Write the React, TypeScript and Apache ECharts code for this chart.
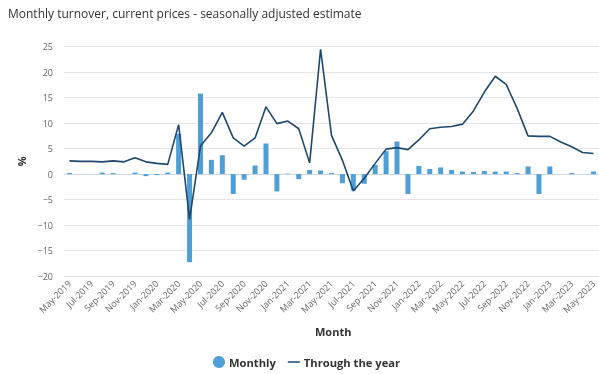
import React, { useEffect, useRef } from "react";
import * as echarts from "echarts";

const months: string[] = [
  "May-2019", "Jun-2019", "Jul-2019", "Aug-2019", "Sep-2019", "Oct-2019", "Nov-2019", "Dec-2019",
  "Jan-2020", "Feb-2020", "Mar-2020", "Apr-2020", "May-2020", "Jun-2020", "Jul-2020", "Aug-2020",
  "Sep-2020", "Oct-2020", "Nov-2020", "Dec-2020", "Jan-2021", "Feb-2021", "Mar-2021", "Apr-2021",
  "May-2021", "Jun-2021", "Jul-2021", "Aug-2021", "Sep-2021", "Oct-2021", "Nov-2021", "Dec-2021",
  "Jan-2022", "Feb-2022", "Mar-2022", "Apr-2022", "May-2022", "Jun-2022", "Jul-2022", "Aug-2022",
  "Sep-2022", "Oct-2022", "Nov-2022", "Dec-2022", "Jan-2023", "Feb-2023", "Mar-2023", "Apr-2023",
  "May-2023",
];

const monthly: number[] = [
  0.2, 0.0, 0.0, 0.3, 0.2, 0.0, 0.3, -0.4,
  -0.2, 0.3, 7.9, -17.3, 15.8, 2.8, 3.7, -3.9,
  -1.1, 1.7, 6.0, -3.4, 0.1, -1.0, 0.8, 0.7,
  0.2, -1.8, -3.2, -1.9, 1.8, 4.5, 6.4, -3.9,
  1.6, 1.0, 1.3, 0.8, 0.5, 0.4, 0.6, 0.5,
  0.5, 0.2, 1.5, -3.9, 1.5, 0.0, 0.2, 0.0,
  0.5,
];

const throughYear: number[] = [
  2.6, 2.5, 2.5, 2.4, 2.6, 2.4, 3.2, 2.4,
  2.1, 1.9, 9.7, -8.9, 5.5, 8.1, 12.1, 7.1,
  5.5, 7.1, 13.2, 9.9, 10.4, 8.9, 2.2, 24.5,
  7.6, 2.7, -3.3, -0.8, 2.1, 4.9, 5.2, 4.8,
  6.7, 8.9, 9.2, 9.35, 9.8, 12.4, 16.1, 19.2,
  17.6, 12.9, 7.5, 7.4, 7.4, 6.3, 5.35, 4.25,
  4.05,
];

const FONT = "'Open Sans', sans-serif";

export default function App() {
  const ref = useRef<HTMLDivElement>(null);
  useEffect(() => {
    if (!ref.current) return;
    const chart = echarts.init(ref.current, undefined, { renderer: "svg" });
    chart.setOption({
      animation: false,
      textStyle: { fontFamily: FONT },
      title: {
        text: "Monthly turnover, current prices - seasonally adjusted estimate",
        left: 3,
        top: 2,
        textStyle: { fontFamily: FONT, fontSize: 12, fontWeight: "normal", color: "#333333" },
      },
      grid: { left: 64, right: 0, top: 46.7, bottom: 98, containLabel: false },
      legend: {
        top: 351,
        left: 208,
        itemGap: 12,
        itemWidth: 12,
        itemHeight: 12,
        itemStyle: { borderWidth: 0 },
        textStyle: { fontFamily: FONT, fontSize: 11.2, fontWeight: "bold", color: "#333333", padding: [0, 0, 0, -1] },
        data: [
          { name: "Monthly", icon: "circle" },
          { name: "Through the year", icon: "path://M0,7 L16,7 L16,9 L0,9 Z" },
        ],
      },
      graphic: [
        {
          type: "text",
          left: 315,
          top: 326,
          style: { text: "Month", fontFamily: FONT, fontSize: 11, fontWeight: "bold", fill: "#333333" },
        },
      ],
      xAxis: {
        type: "category",
        data: months,
        boundaryGap: true,
        axisLine: { show: true, lineStyle: { color: "#ccd6eb", width: 1 } },
        axisTick: { show: false },
        axisLabel: {
          interval: 1,
          rotate: 45,
          fontSize: 9,
          color: "#666666",
          fontFamily: FONT,
          margin: 6,
        },
      },
      yAxis: {
        type: "value",
        min: -20,
        max: 25,
        interval: 5,
        name: "%",
        nameLocation: "middle",
        nameRotate: 90,
        nameGap: 36,
        nameTextStyle: { fontFamily: FONT, fontSize: 11, fontWeight: "bold", color: "#333333" },
        axisLine: { show: false },
        axisTick: { show: false },
        splitLine: { lineStyle: { color: "#e6e6e6", width: 1 } },
        axisLabel: {
          fontSize: 9,
          color: "#666666",
          fontFamily: FONT,
          margin: 11,
          formatter: (v: number) => (v < 0 ? "\u2212" + Math.abs(v) : String(v)),
        },
      },
      series: [
        {
          name: "Monthly",
          type: "bar",
          data: monthly,
          barWidth: 5,
          itemStyle: { color: "#4e9fd5" },
        },
        {
          name: "Through the year",
          type: "line",
          data: throughYear,
          symbol: "none",
          lineStyle: { color: "#1f4870", width: 1.6 },
          itemStyle: { color: "#1f4870" },
        },
      ],
    });
    return () => chart.dispose();
  }, []);
  return (
    <div
      ref={ref}
      style={{ position: "fixed", left: 0, top: 0, width: 599, height: 374 }}
    />
  );
}
